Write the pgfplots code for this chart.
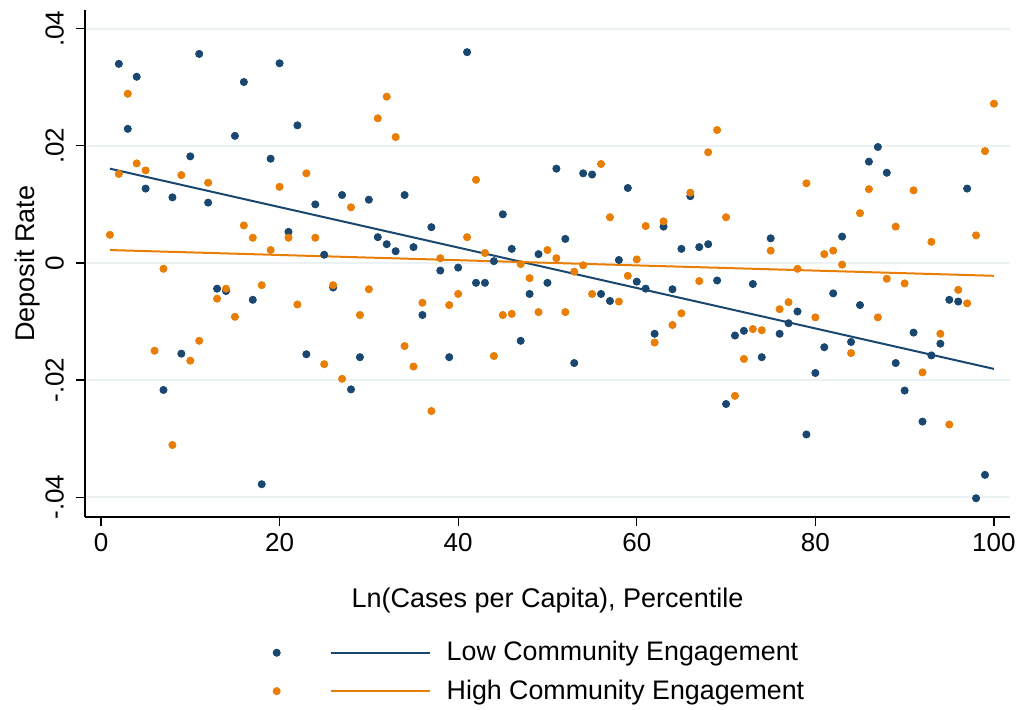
\documentclass[border=0pt]{standalone}
\usepackage{fontspec}
\setmainfont{Liberation Sans}
\usepackage{pgfplots}
\pgfplotsset{compat=1.18}
\usepackage{pgfplotstable}
\definecolor{stnavy}{RGB}{26,71,111}
\definecolor{storange}{RGB}{232,126,6}
\definecolor{stgrid}{RGB}{234,242,243}

\pgfplotstableread{
x y
2 0.0340
3 0.0229
4 0.0318
5 0.0127
7 -0.0217
8 0.0112
9 -0.0155
10 0.0182
11 0.0357
12 0.0103
13 -0.0044
14 -0.0048
15 0.0217
16 0.0309
17 -0.0063
18 -0.0378
19 0.0178
20 0.0341
21 0.0053
22 0.0235
23 -0.0156
24 0.0100
25 0.0014
26 -0.0042
27 0.0116
28 -0.0216
29 -0.0161
30 0.0108
31 0.0044
32 0.0032
33 0.0020
34 0.0116
35 0.0027
36 -0.0089
37 0.0061
38 -0.0013
39 -0.0161
40 -0.0008
41 0.0360
42 -0.0034
43 -0.0034
44 0.0003
45 0.0083
46 0.0024
47 -0.0133
48 -0.0053
49 0.0015
50 -0.0034
51 0.0161
52 0.0041
53 -0.0171
54 0.0153
55 0.0151
56 -0.0053
57 -0.0065
58 0.0005
59 0.0128
60 -0.0032
61 -0.0044
62 -0.0121
63 0.0062
64 -0.0045
65 0.0024
66 0.0114
67 0.0027
68 0.0032
69 -0.0030
70 -0.0241
71 -0.0124
72 -0.0116
73 -0.0036
74 -0.0161
75 0.0042
76 -0.0121
77 -0.0103
78 -0.0083
79 -0.0293
80 -0.0188
81 -0.0144
82 -0.0052
83 0.0045
84 -0.0135
85 -0.0072
86 0.0173
87 0.0198
88 0.0154
89 -0.0171
90 -0.0218
91 -0.0119
92 -0.0271
93 -0.0158
94 -0.0138
95 -0.0063
96 -0.0066
97 0.0127
98 -0.0402
99 -0.0362
}\lowtable

\pgfplotstableread{
x y
1 0.0048
2 0.0152
3 0.0289
4 0.0170
5 0.0158
6 -0.0150
7 -0.0010
8 -0.0311
9 0.0150
10 -0.0167
11 -0.0133
12 0.0137
13 -0.0061
14 -0.0044
15 -0.0092
16 0.0064
17 0.0043
18 -0.0038
19 0.0022
20 0.0130
21 0.0043
22 -0.0071
23 0.0153
24 0.0043
25 -0.0173
26 -0.0038
27 -0.0198
28 0.0095
29 -0.0089
30 -0.0045
31 0.0247
32 0.0284
33 0.0215
34 -0.0142
35 -0.0177
36 -0.0068
37 -0.0253
38 0.0008
39 -0.0072
40 -0.0053
41 0.0044
42 0.0142
43 0.0017
44 -0.0159
45 -0.0089
46 -0.0087
47 -0.0002
48 -0.0026
49 -0.0084
50 0.0022
51 0.0008
52 -0.0084
53 -0.0015
54 -0.0004
55 -0.0053
56 0.0169
57 0.0078
58 -0.0066
59 -0.0022
60 0.0006
61 0.0063
62 -0.0136
63 0.0071
64 -0.0106
65 -0.0086
66 0.0120
67 -0.0031
68 0.0189
69 0.0227
70 0.0078
71 -0.0227
72 -0.0164
73 -0.0113
74 -0.0115
75 0.0021
76 -0.0079
77 -0.0067
78 -0.0010
79 0.0136
80 -0.0093
81 0.0015
82 0.0021
83 -0.0003
84 -0.0154
85 0.0085
86 0.0126
87 -0.0093
88 -0.0027
89 0.0062
90 -0.0035
91 0.0124
92 -0.0187
93 0.0036
94 -0.0121
95 -0.0276
96 -0.0046
97 -0.0069
98 0.0047
99 0.0191
100 0.0272
}\hightable

\begin{document}
\begin{tikzpicture}
\begin{axis}[
  scale only axis,
  width=462.5pt, height=253.5pt,
  xmin=-1.79, xmax=101.8,
  ymin=-0.0434, ymax=0.0432,
  axis lines*=left,
  axis line style={-, line width=0.6pt, black},
  tick align=outside,
  major tick length=4.5pt,
  tick style={black, line width=0.6pt},
  xtick={0,20,40,60,80,100},
  xticklabels={0,20,40,60,80,100},
  ytick={-0.04,-0.02,0,0.02,0.04},
  yticklabels={-.04,-.02,0,.02,.04},
  scaled y ticks=false,
  scaled x ticks=false,
  ymajorgrids,
  major grid style={stgrid, line width=1pt},
  tick label style={font=\fontsize{13}{15}\selectfont},
  yticklabel style={xshift=-2.5pt, rotate=90, anchor=south},
  xlabel={Ln(Cases per Capita), Percentile},
  ylabel={Deposit Rate},
  label style={font=\fontsize{13.5}{16}\selectfont},
  xlabel style={at={(axis description cs:0.5,0)}, anchor=north, yshift=-32pt},
  ylabel style={at={(axis description cs:-0.0412,0.5)}, anchor=south},
  legend columns=2,
  transpose legend,
  legend style={draw=none, fill=none, font=\fontsize{13.4}{16}\selectfont,
    at={(axis description cs:0.196,-0.229)}, anchor=north west,
    /tikz/every even column/.append style={column sep=0pt},
    /tikz/every odd column/.append style={column sep=6pt},
    row sep=4pt},
  legend cell align=left,
]
\addplot[only marks, mark=*, mark size=1.8pt, color=stnavy,
  legend image code/.code={\fill[stnavy] (0,0) circle (1.8pt); \path[draw=none,fill=none] (0,0) -- (16.5pt,0);}]
  table[x=x,y=y] {\lowtable};
\addlegendentry{}
\addplot[only marks, mark=*, mark size=1.8pt, color=storange,
  legend image code/.code={\fill[storange] (0,0) circle (1.8pt); \path[draw=none,fill=none] (0,0) -- (16.5pt,0);}]
  table[x=x,y=y] {\hightable};
\addlegendentry{}
\addplot[stnavy, line width=1pt, no marks,
  legend image code/.code={\draw[stnavy, line width=1pt] (0,0) -- (49.5pt,0);}]
  coordinates {(1,0.0161) (100,-0.0181)};
\addlegendentry{Low Community Engagement}
\addplot[storange, line width=1pt, no marks,
  legend image code/.code={\draw[storange, line width=1pt] (0,0) -- (49.5pt,0);}]
  coordinates {(1,0.0022) (100,-0.0022)};
\addlegendentry{High Community Engagement}
\end{axis}
\pgfresetboundingbox
\path[use as bounding box] ([shift={(-42.5pt,-96pt)}]current axis.south west) rectangle ([shift={(465.5pt,258.5pt)}]current axis.south west);
\end{tikzpicture}
\end{document}
